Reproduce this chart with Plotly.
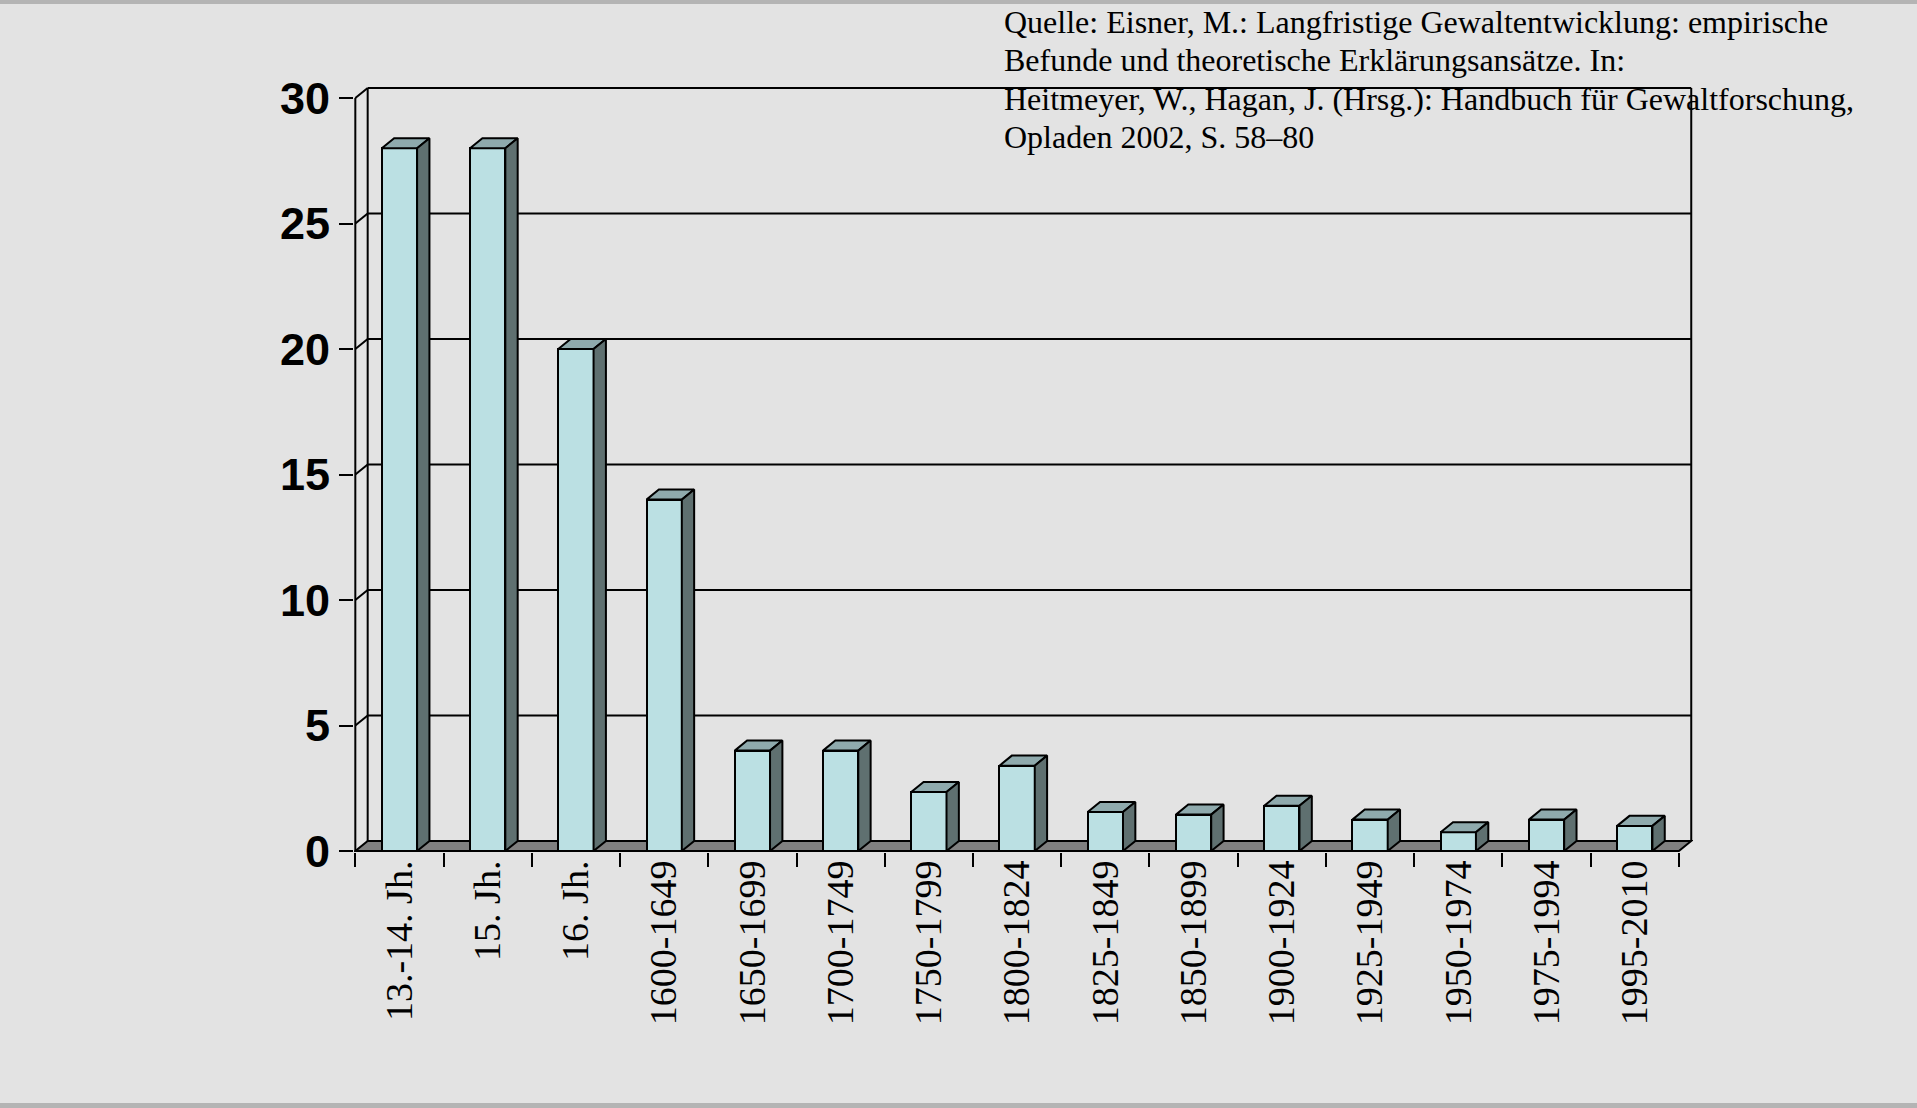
import plotly.graph_objects as go

# ---------------- data ----------------
categories = ["13.-14. Jh.", "15. Jh.", "16. Jh.", "1600-1649", "1650-1699", "1700-1749",
              "1750-1799", "1800-1824", "1825-1849", "1850-1899", "1900-1924", "1925-1949",
              "1950-1974", "1975-1994", "1995-2010"]
values = [28, 28, 20, 14, 4, 4, 2.35, 3.4, 1.55, 1.45, 1.8, 1.25, 0.75, 1.25, 1.0]
y_ticks = [0, 5, 10, 15, 20, 25, 30]
source_lines = [
    "Quelle: Eisner, M.: Langfristige Gewaltentwicklung: empirische",
    "Befunde und theoretische Erklärungsansätze. In:",
    "Heitmeyer, W., Hagan, J. (Hrsg.): Handbuch für Gewaltforschung,",
    "Opladen 2002, S. 58–80",
]

# ---------------- style ----------------
BG = "#E3E3E3"
FRONT = "#BBE0E3"
TOP = "#8FAAAD"
SIDE = "#5F7070"
FLOOR = "#808080"
LW = 2
DX, DY = 0.14, 0.4      # 3D depth offset in data units
BW = 0.4                # bar width
n = len(categories)
xs = list(range(n))
x_lo, x_hi = -0.5, n - 0.5
y_max = max(y_ticks)

fig = go.Figure()

# front faces
fig.add_trace(go.Bar(x=xs, y=values, width=BW, marker=dict(color=FRONT, line=dict(color="black", width=LW)),
                     hoverinfo="skip", showlegend=False))

# tops and sides
tx, ty, sx, sy = [], [], [], []
for xc, v in zip(xs, values):
    l, r = xc - BW / 2, xc + BW / 2
    tx += [l, r, r + DX, l + DX, l, None]
    ty += [v, v, v + DY, v + DY, v, None]
    sx += [r, r + DX, r + DX, r, r, None]
    sy += [0, DY, v + DY, v, 0, None]
fig.add_trace(go.Scatter(x=tx, y=ty, mode="lines", fill="toself", fillcolor=TOP,
                         line=dict(color="black", width=LW), hoverinfo="skip", showlegend=False))
fig.add_trace(go.Scatter(x=sx, y=sy, mode="lines", fill="toself", fillcolor=SIDE,
                         line=dict(color="black", width=LW), hoverinfo="skip", showlegend=False))

# walls, gridlines, floor as shapes below traces
shapes = []
line_k = dict(color="black", width=LW)
for t in y_ticks[1:]:
    shapes.append(dict(type="line", xref="x", yref="y", x0=x_lo + DX, x1=x_hi + DX, y0=t + DY, y1=t + DY,
                       line=line_k, layer="below"))
    shapes.append(dict(type="line", xref="x", yref="y", x0=x_lo, x1=x_lo + DX, y0=t, y1=t + DY,
                       line=line_k, layer="below"))
shapes.append(dict(type="line", xref="x", yref="y", x0=x_lo + DX, x1=x_lo + DX, y0=DY, y1=y_max + DY,
                   line=line_k, layer="below"))
shapes.append(dict(type="line", xref="x", yref="y", x0=x_hi + DX, x1=x_hi + DX, y0=DY, y1=y_max + DY,
                   line=line_k, layer="below"))
shapes.append(dict(type="line", xref="x", yref="y", x0=x_lo, x1=x_lo, y0=0, y1=y_max,
                   line=line_k, layer="below"))
floor_path = f"M {x_lo},0 L {x_hi},0 L {x_hi + DX},{DY} L {x_lo + DX},{DY} Z"
shapes.append(dict(type="path", xref="x", yref="y", path=floor_path, fillcolor=FLOOR,
                   line=line_k, layer="below"))

ML, MR, MT, MB = 354, 224, 87, 256
W, H = 1917, 1108
pw, ph = W - ML - MR, H - MT - MB

# thin decorative bands at top and bottom of the page
def py(pix):
    return (H - MB - pix) / ph
shapes.append(dict(type="rect", xref="paper", yref="paper", x0=-0.3, x1=1.2, y0=py(4), y1=py(-2),
                   fillcolor="#B4B4B4", line=dict(width=0), layer="below"))
shapes.append(dict(type="rect", xref="paper", yref="paper", x0=-0.3, x1=1.2, y0=py(1110), y1=py(1103),
                   fillcolor="#B4B4B4", line=dict(width=0), layer="below"))

# source annotations
line_centers_px = [22, 60.3, 98.6, 137]
annotations = []
for txt, yc in zip(source_lines, line_centers_px):
    annotations.append(dict(text=txt, xref="paper", yref="paper", x=(1002 - ML) / pw, y=py(yc),
                            xanchor="left", yanchor="middle", showarrow=False, align="left",
                            font=dict(family="Liberation Serif", size=32, color="black")))

fig.update_layout(
    width=W, height=H,
    margin=dict(l=ML, r=MR, t=MT, b=MB, pad=0),
    paper_bgcolor=BG, plot_bgcolor=BG,
    shapes=shapes, annotations=annotations,
    bargap=0, showlegend=False,
    xaxis=dict(range=[-0.515, x_hi + DX + 0.02], tickvals=xs, ticktext=categories, tickangle=-90,
               ticks="", showgrid=False, zeroline=False, showline=False, ticklabelstandoff=0,
               tickfont=dict(family="Liberation Serif", size=38, color="black")),
    xaxis2=dict(range=[-0.515, x_hi + DX + 0.02], overlaying="x", side="bottom", anchor="y",
                tickvals=[x - 0.5 for x in range(n + 1)], ticks="outside", ticklen=14, tickwidth=LW,
                tickcolor="black", showticklabels=False, showgrid=False, zeroline=False, showline=False),
    yaxis=dict(range=[-0.04, y_max + DY + 0.04], tickvals=y_ticks, ticks="outside", ticklen=14,
               tickwidth=LW, tickcolor="black", showgrid=False, zeroline=False, showline=False,
               ticklabelstandoff=0,
               tickfont=dict(family="Liberation Sans", size=45, color="black", weight="bold")),
)
fig.add_trace(go.Scatter(x=[0], y=[0], xaxis="x2", yaxis="y", mode="markers",
                         marker=dict(opacity=0), hoverinfo="skip", showlegend=False))

fig.write_html("out.html")
